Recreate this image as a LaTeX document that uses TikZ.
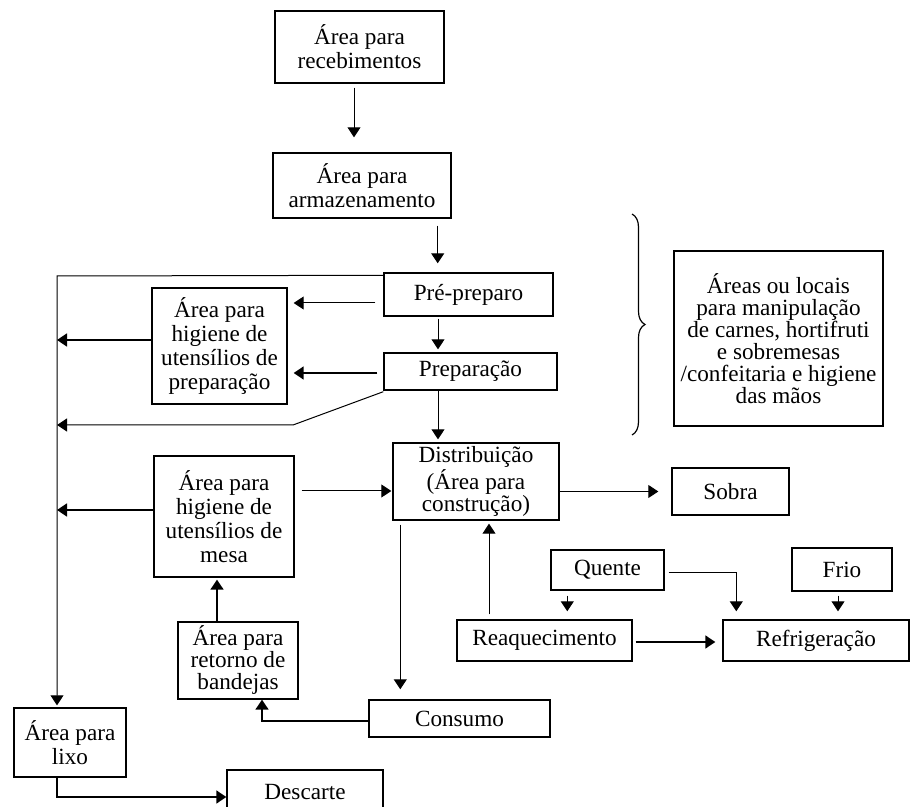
\documentclass[tikz,border=0pt]{standalone}
\usepackage{fontspec}
\setmainfont{Liberation Serif}
\usetikzlibrary{arrows.meta}
\usetikzlibrary{decorations.pathreplacing}

\begin{document}
\begin{tikzpicture}[x=0.5pt, y=-0.5pt,
  box/.style={draw, line width=0.7pt, align=center, inner sep=1pt, font=\fontsize{11.6}{12}\selectfont},
  flow/.style={line width=0.5pt, -{Triangle[width=6.5pt,length=5pt]}},
  flowbold/.style={line width=0.9pt, -{Triangle[width=6.5pt,length=5pt]}}]

\useasboundingbox (0,0) rectangle (911,807);

% boxes
{
\node[box, minimum width=84.5pt, minimum height=36pt] (receb) at (359.5,47) {Área para\\recebimentos};
\node[box, minimum width=89pt, minimum height=32.5pt] (armaz) at (362,185.5) {Área para\\armazenamento};
\node[box, minimum width=84.5pt, minimum height=21.5pt] (prepre) at (468.5,294.5) {Pré-preparo};
\node[box, minimum width=86.5pt, minimum height=18.5pt] (prep) at (470.5,371.5) {Preparação};
\node[box, minimum width=83pt, minimum height=38.5pt, font=\fontsize{11.6}{11}\selectfont] (distrib) at (476,481.5) {Distribuição\\(Área para\\construção)};
\node[box, minimum width=104.5pt, minimum height=87.5pt, font=\fontsize{11.6}{11}\selectfont] (manip) at (778.5,338.5)
{Áreas ou locais\\para manipulação\\de carnes, hortifruti\\e sobremesas\\/confeitaria e higiene\\das mãos};
\node[box, minimum width=67.5pt, minimum height=58pt] (higprep) at (219.5,346) {Área para\\higiene de\\utensílios de\\preparação};
\node[box, minimum width=70pt, minimum height=60.5pt] (mesa) at (224,516.5) {Área para\\higiene de\\utensílios de\\mesa};
\node[box, minimum width=58.5pt, minimum height=23.5pt] (sobra) at (730.5,491.5) {Sobra};
\node[box, minimum width=60pt, minimum height=38.5pt, font=\fontsize{11.6}{11}\selectfont] (retorno) at (238,660.5) {Área para\\retorno de\\bandejas};
\node[box, minimum width=90.5pt, minimum height=18.5pt] (consumo) at (459.5,718.5) {Consumo};
\node[box, minimum width=87.5pt, minimum height=20.5pt] (reaq) at (544.5,640.5) {Reaquecimento};
\node[box, minimum width=56.5pt, minimum height=20pt] (quente) at (607.5,570) {Quente};
\node[box, minimum width=50pt, minimum height=21.5pt] (frio) at (842,569.5) {Frio};
\node[box, minimum width=93pt, minimum height=20.5pt] (refrig) at (816,640.5) {Refrigeração};
\node[box, minimum width=56pt, minimum height=34.5pt] (lixo) at (70,742.5) {Área para\\lixo};
\node[box, minimum width=78pt, minimum height=22pt] (descarte) at (305,792) {Descarte};
}

% brace
\draw[line width=0.6pt, decorate, decoration={brace, amplitude=6.5pt}] (632,214) -- (632,435);

% corners
\coordinate (trunk) at (57,276);
\coordinate (kink) at (293,425);

% arrows
{
\draw[flow, shorten <=2pt, shorten >=7.5pt] ([xshift=-2.75pt]receb.south) -- ([xshift=-2.75pt]receb.south |- armaz.north);
\draw[flow, shorten <=3.5pt, shorten >=4.5pt] ([xshift=-7pt]armaz.south east) -- ([xshift=-7pt]armaz.south east |- prepre.north);
\draw[flow, shorten <=1pt, shorten >=1.5pt] ([xshift=-15.25pt]prepre.south) -- ([xshift=-15.25pt]prepre.south |- prep.north);
\draw[flow, shorten >=1.5pt] ([xshift=-16.25pt]prep.south) -- ([xshift=-16.25pt]prep.south |- distrib.north);

\draw[flow, shorten >=1pt] ([yshift=-1.5pt]prepre.north west) -- (trunk) -- (trunk |- lixo.north);
\draw[flow, shorten <=4pt, shorten >=3pt] ([yshift=-4.25pt]prepre.west) -- ([yshift=-4.25pt]prepre.west -| higprep.east);
\draw[flowbold, shorten <=3pt, shorten >=3pt] ([yshift=-0.75pt]prep.west) -- ([yshift=-0.75pt]prep.west -| higprep.east);
\draw[flowbold] ([yshift=3pt]higprep.west) -- ([yshift=3pt]higprep.west -| trunk);
\draw[flow] ([yshift=-0.5pt]prep.south west) -- (kink) -- (kink -| trunk);

\draw[flow, shorten <=3.5pt, shorten >=0.5pt] ([yshift=-4.75pt]distrib.west -| mesa.east) -- ([yshift=-4.75pt]distrib.west);
\draw[flowbold] ([yshift=3.25pt]mesa.west) -- ([yshift=3.25pt]mesa.west -| trunk);
\draw[flow, shorten >=6.5pt] (sobra.west -| distrib.east) -- (sobra.west);

\draw[flowbold, shorten >=1pt] ([xshift=-10.5pt]retorno.north) -- ([xshift=-10.5pt]retorno.north |- mesa.south);
\draw[flowbold] ([yshift=-1.25pt]consumo.west) -| ([xshift=12pt]retorno.south);
\draw[flow, shorten <=2pt, shorten >=5pt] ([xshift=4pt]distrib.south west) -- ([xshift=4pt]distrib.south west |- consumo.north);
\draw[flow, shorten <=2.5pt, shorten >=1.5pt] ([xshift=-27.75pt]reaq.north) -- ([xshift=-27.75pt]reaq.north |- distrib.south);

\draw[flow, shorten <=2.5pt, shorten >=4pt] ([xshift=8.5pt]quente.south west) -- ([xshift=8.5pt]quente.south west |- reaq.north);
\draw[flow, shorten <=2pt, shorten >=4pt] ([yshift=-1.5pt]quente.east) -| ([xshift=7pt]refrig.north west);
\draw[flow, shorten <=2pt, shorten >=4pt] ([xshift=-2pt]frio.south) -- ([xshift=-2pt]frio.south |- refrig.north);
\draw[flowbold, shorten <=1.5pt, shorten >=3.5pt] ([yshift=-0.75pt]reaq.east) -- ([yshift=-0.75pt]reaq.east -| refrig.west);

\draw[flowbold] ([xshift=-6.5pt]lixo.south) |- ([yshift=-2.5pt]descarte.west);
}
\end{tikzpicture}
\end{document}
